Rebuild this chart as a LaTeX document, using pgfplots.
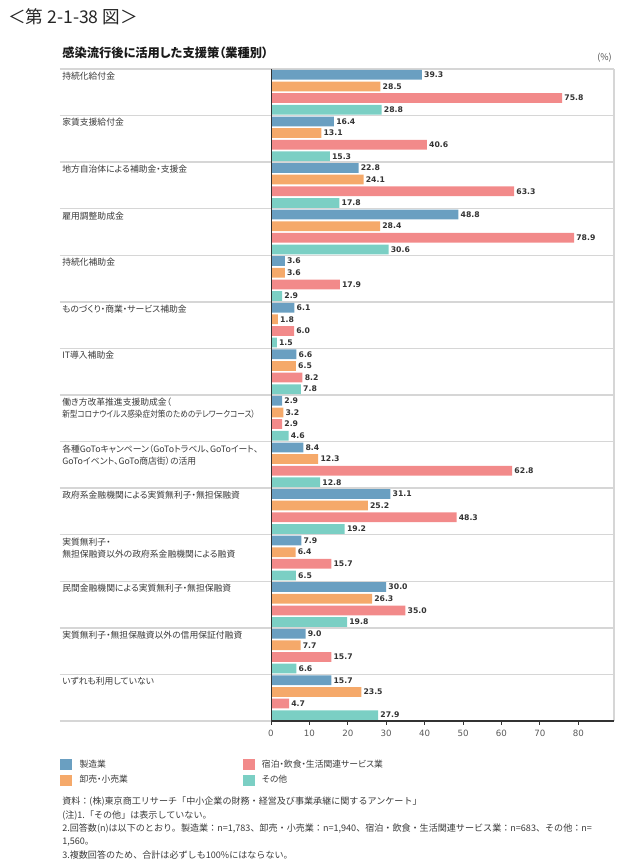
\documentclass[border=0pt]{standalone}
\usepackage{fontspec}
\usepackage{graphicx}
\setmainfont{Noto Sans CJK JP}[RawFeature={+palt}]
\newfontfamily\jpfull{Noto Sans CJK JP}
\newfontfamily\numfont{DejaVu Sans}
\usepackage{pgfplots}
\pgfplotsset{compat=1.18}
\usepackage{pgfplotstable}
\definecolor{cB}{HTML}{6A9FC1}
\definecolor{cO}{HTML}{F5A96A}
\definecolor{cP}{HTML}{F28A8A}
\definecolor{cT}{HTML}{7BCFC4}
\definecolor{sepc}{HTML}{D6D6D6}
\definecolor{lbl}{HTML}{3A3A3A}

% g = group index (top to bottom); b = 製造業, o = 卸売・小売業, p = 宿泊・飲食・生活関連サービス業, t = その他
\pgfplotstableread{
g b o p t
0 39.3 28.5 75.8 28.8
1 16.4 13.1 40.6 15.3
2 22.8 24.1 63.3 17.8
3 48.8 28.4 78.9 30.6
4 3.6 3.6 17.9 2.9
5 6.1 1.8 6.0 1.5
6 6.6 6.5 8.2 7.8
7 2.9 3.2 2.9 4.6
8 8.4 12.3 62.8 12.8
9 31.1 25.2 48.3 19.2
10 7.9 6.4 15.7 6.5
11 30.0 26.3 35.0 19.8
12 9.0 7.7 15.7 6.6
13 15.7 23.5 4.7 27.9
}\data

\pgfplotsset{
  sq legend/.style={legend image code/.code={\fill[##1] (0pt,-4.1pt) rectangle (9pt,4.1pt);}},
}
\tikzset{
  cat/.style={anchor=north west, xshift=-156.75pt, yshift=-2pt, align=left,
    font=\fontsize{6.6}{9.2}\selectfont, text=lbl, inner sep=0pt},
}

\begin{document}
\begin{tikzpicture}
\path[use as bounding box] (0,0) rectangle (480pt,646.5pt);
\node[anchor=west, inner sep=0pt, font=\jpfull\fontsize{13.2}{15}\selectfont, text=black!85] at (6pt,633.75pt) {＜第 2-1-38 図＞};
\node[anchor=west, inner sep=0pt, font=\bfseries\fontsize{9.2}{11}\selectfont, text=black!90] at (46.5pt,606.75pt) {感染流行後に活用した支援策（業種別）};
\node[anchor=east, inner sep=0pt, font=\fontsize{6.8}{8}\selectfont, text=black!70] at (459pt,603pt) {(\%)};
\begin{axis}[
  at={(203.25pt,105.75pt)}, anchor=south west, scale only axis,
  width=257.25pt, height=489pt,
  xmin=0, xmax=89.3, ymin=0, ymax=56,
  xbar, bar shift=0pt, bar width=7.3pt,
  axis x line*=bottom, axis y line*=left,
  axis line style={draw=black!80, line width=0.75pt},
  x axis line style={line width=1.1pt},
  ytick=\empty,
  xtick={0,10,...,80},
  tick align=outside, major tick length=3pt,
  tick style={draw=black!80, line width=0.6pt},
  xticklabel style={font=\numfont\fontsize{6.5}{7}\selectfont, text=black!65},
  /pgf/number format/assume math mode=true,
  clip=false, axis on top,
  nodes near coords={\pgfmathprintnumber[fixed,fixed zerofill,precision=1]{\pgfplotspointmeta}},
  every node near coord/.append style={font=\numfont\bfseries\fontsize{5.8}{7}\selectfont, text=black!80, inner sep=1.5pt},
  legend columns=2, transpose legend,
  legend cell align=left,
  legend style={at={([xshift=-158.25pt,yshift=-27pt]axis description cs:0,0)}, anchor=north west,
    draw=none, fill=none, inner sep=0pt, font=\fontsize{6.6}{8}\selectfont, text=lbl,
    row sep=0.6pt,
    /tikz/every odd column/.append style={column sep=3.5pt},
    /tikz/every even column/.append style={column sep=84pt}},
]
\pgfplotsinvokeforeach{0,4,...,56}{\draw[sepc, line width=1pt] ([xshift=-158.25pt]axis cs:0,#1) -- (axis cs:89.3,#1);}
\draw[sepc, line width=1pt] (axis cs:89.3,0) -- (axis cs:89.3,56);

\addplot[xbar, bar shift=0pt, fill=cB, draw=none, sq legend] table[x=b, y expr=55.5-4*\thisrow{g}] {\data};
\addplot[xbar, bar shift=0pt, fill=cO, draw=none, sq legend] table[x=o, y expr=54.5-4*\thisrow{g}] {\data};
\addplot[xbar, bar shift=0pt, fill=cP, draw=none, sq legend] table[x=p, y expr=53.5-4*\thisrow{g}] {\data};
\addplot[xbar, bar shift=0pt, fill=cT, draw=none, sq legend] table[x=t, y expr=52.5-4*\thisrow{g}] {\data};
\legend{製造業,卸売・小売業,宿泊・飲食・生活関連サービス業,その他}

\node[cat] at (axis cs:0,56) {持続化給付金};
\node[cat] at (axis cs:0,52) {家賃支援給付金};
\node[cat] at (axis cs:0,48) {地方自治体による補助金・支援金};
\node[cat] at (axis cs:0,44) {雇用調整助成金};
\node[cat] at (axis cs:0,40) {持続化補助金};
\node[cat] at (axis cs:0,36) {ものづくり・商業・サービス補助金};
\node[cat] at (axis cs:0,32) {IT導入補助金};
\node[cat] at (axis cs:0,28) {働き方改革推進支援助成金（\\\scalebox{0.87}[1]{新型コロナウイルス感染症対策のためのテレワークコース）}};
\node[cat] at (axis cs:0,24) {各種GoToキャンペーン（GoToトラベル、GoToイート、\\GoToイベント、GoTo商店街）の活用};
\node[cat] at (axis cs:0,20) {政府系金融機関による実質無利子・無担保融資};
\node[cat] at (axis cs:0,16) {実質無利子・\\無担保融資以外の政府系金融機関による融資};
\node[cat] at (axis cs:0,12) {民間金融機関による実質無利子・無担保融資};
\node[cat] at (axis cs:0,8) {実質無利子・無担保融資以外の信用保証付融資};
\node[cat] at (axis cs:0,4) {いずれも利用していない};
\end{axis}
\node[anchor=north west, inner sep=0pt, align=left, font=\jpfull\fontsize{6.8}{9.95}\selectfont, text=lbl] at (46.5pt,48.75pt)
{資料：(株)東京商工リサーチ「中小企業の財務・経営及び事業承継に関するアンケート」\\
(注)1.「その他」は表示していない。\\
2.回答数(n)は以下のとおり。製造業：n=1,783、卸売・小売業：n=1,940、宿泊・飲食・生活関連サービス業：n=683、その他：n=\\
1,560。\\
3.複数回答のため、合計は必ずしも100\%にはならない。};
\end{tikzpicture}
\end{document}
